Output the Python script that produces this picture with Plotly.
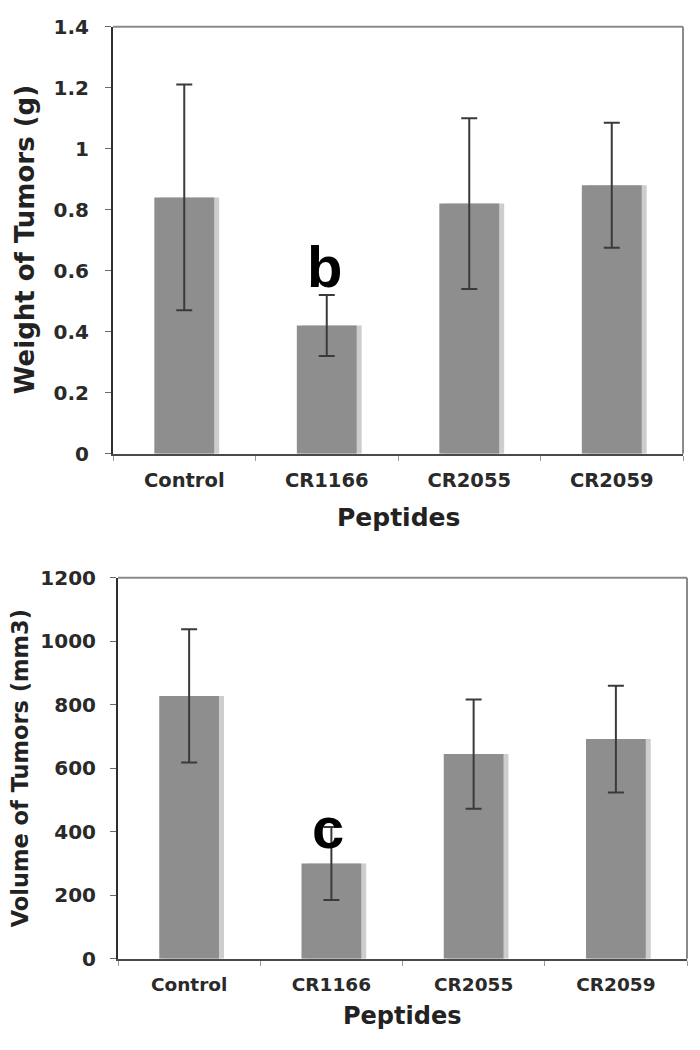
import plotly.graph_objects as go

categories = ["Control", "CR1166", "CR2055", "CR2059"]
weight_values = [0.84, 0.42, 0.82, 0.88]
weight_errors = [0.37, 0.10, 0.28, 0.205]
volume_values = [828, 300, 645, 692]
volume_errors = [210, 115, 172, 168]
weight_ticks = [0, 0.2, 0.4, 0.6, 0.8, 1, 1.2, 1.4]
weight_ticktext = ["0", "0.2", "0.4", "0.6", "0.8", "1", "1.2", "1.4"]
volume_ticks = [0, 200, 400, 600, 800, 1000, 1200]

BAR = "#8e8e8e"
SHADOW = "#cdcdcd"
ERR = "#3a3a3a"
BW = 0.42
SH = 0.035
FONT = "DejaVu Sans"

fig = go.Figure()

def add_panel(values, errors, xa, ya):
    fig.add_trace(go.Bar(x=categories, y=values, width=[BW]*4, offset=-BW/2 + SH,
                         marker=dict(color=SHADOW, line=dict(width=0)),
                         xaxis=xa, yaxis=ya, showlegend=False, hoverinfo="skip"))
    fig.add_trace(go.Bar(x=categories, y=values, width=[BW]*4, offset=-BW/2,
                         marker=dict(color=BAR, line=dict(width=0)),
                         error_y=dict(type="data", array=errors, visible=True,
                                      color=ERR, thickness=2, width=8),
                         xaxis=xa, yaxis=ya, showlegend=False, hoverinfo="skip"))

add_panel(weight_values, weight_errors, "x", "y")
add_panel(volume_values, volume_errors, "x2", "y2")

def xaxis_style(size):
    return dict(type="category", showline=True, linecolor="#4a4a4a", linewidth=2,
                ticks="outside", tickson="boundaries", ticklen=5, tickcolor="#9a9a9a",
                tickwidth=1, showgrid=False, zeroline=False,
                tickfont=dict(family=FONT, size=size, color="#2a2a2a", weight="bold"),
                ticklabelstandoff=8)

def yaxis_style(size, standoff):
    return dict(showline=True, linecolor="#2e2e2e", linewidth=2, ticks="outside",
                ticklen=6, tickcolor="#6a6a6a", tickwidth=1, showgrid=False,
                zeroline=False, ticklabelstandoff=standoff,
                tickfont=dict(family=FONT, size=size, color="#2a2a2a", weight="bold"))

fig.update_layout(
    width=700, height=1050, margin=dict(l=0, r=0, t=0, b=0),
    paper_bgcolor="white", plot_bgcolor="white", barmode="overlay",
    xaxis=dict(domain=[113/700, 683/700], anchor="y", **xaxis_style(19.5)),
    yaxis=dict(domain=[1-452/1050, 1-15/1050], anchor="x", range=[0, 1.4],
               tickvals=weight_ticks, ticktext=weight_ticktext, **yaxis_style(20, 12)),
    xaxis2=dict(domain=[118/700, 687/700], anchor="y2", **xaxis_style(18.5)),
    yaxis2=dict(domain=[1-969/1050, 1-579/1050], anchor="x2", range=[0, 1200],
                tickvals=volume_ticks, **yaxis_style(20, 10)),
)

# frame (top and right) lines
for xr, yr in [("x domain", "y domain"), ("x2 domain", "y2 domain")]:
    fig.add_shape(type="line", xref=xr, yref=yr, x0=0, x1=1, y0=1, y1=1,
                  line=dict(color="#8a8a8a", width=2))
    fig.add_shape(type="line", xref=xr, yref=yr, x0=1, x1=1, y0=0, y1=1,
                  line=dict(color="#8a8a8a", width=2))

fig.add_annotation(text="Peptides", xref="x domain", yref="paper", x=0.5, y=1-517/1050,
                   showarrow=False, xanchor="center", yanchor="middle",
                   font=dict(family=FONT, size=25, color="#222222", weight="bold"))
fig.add_annotation(text="Peptides", xref="x2 domain", yref="paper", x=0.5, y=1-1027/1050,
                   showarrow=False, xanchor="center", yanchor="middle",
                   font=dict(family=FONT, size=24, color="#222222", weight="bold"))
fig.add_annotation(text="Weight of Tumors (g)", xref="paper", yref="y domain",
                   x=25/700, y=0.5, textangle=-90, showarrow=False,
                   xanchor="center", yanchor="middle",
                   font=dict(family=FONT, size=26, color="#222222", weight="bold"))
fig.add_annotation(text="Volume of Tumors (mm3)", xref="paper", yref="y2 domain",
                   x=20/700, y=0.5, textangle=-90, showarrow=False,
                   xanchor="center", yanchor="middle",
                   font=dict(family=FONT, size=22.5, color="#222222", weight="bold"))

# significance letters
fig.add_annotation(text="b", xref="x", yref="y", x=categories[1],
                   y=weight_values[1] + weight_errors[1], yanchor="bottom",
                   showarrow=False, yshift=-6, xshift=-2,
                   font=dict(family="Liberation Sans", size=58, color="black", weight="bold"))
fig.add_annotation(text="c", xref="x2", yref="y2", x=categories[1],
                   y=volume_values[1], yanchor="bottom",
                   showarrow=False, yshift=2, xshift=-3,
                   font=dict(family="Liberation Sans", size=58, color="black", weight="bold"))

fig.write_html("out.html", config={"displayModeBar": False},
               post_script="document.body.style.margin='0px';document.body.style.overflow='hidden';")
